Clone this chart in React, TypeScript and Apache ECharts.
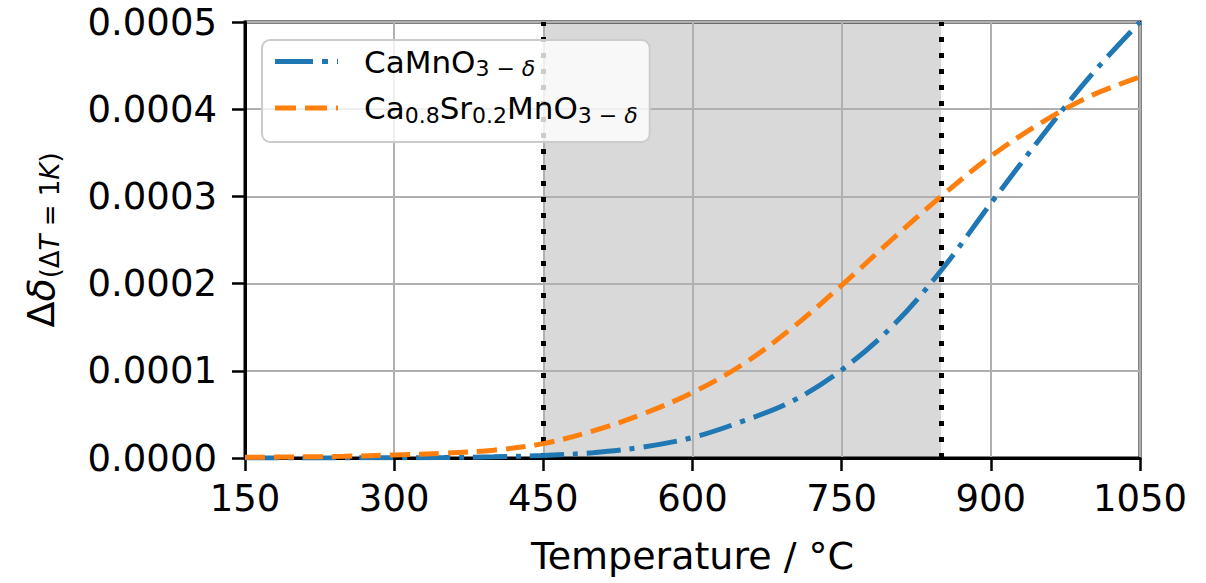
import React, { useEffect, useRef } from "react";
import * as echarts from "echarts";

const temps = [150, 200, 250, 300, 350, 400, 450, 500, 550, 600, 650, 700, 750, 800, 850, 900, 950, 1000, 1050];
const caMnO3 = [0, 0, 0.0000001, 0.0000003, 0.0000006, 0.0000014, 0.000003, 0.000006, 0.0000125, 0.0000235, 0.000042, 0.000065, 0.000101, 0.00015, 0.000215, 0.000292, 0.000367, 0.000438, 0.0005];
const caSrMnO3 = [0.0000008, 0.0000012, 0.000002, 0.0000035, 0.0000055, 0.000009, 0.0000165, 0.000031, 0.0000505, 0.000075, 0.000107, 0.000149, 0.000198, 0.00025, 0.0003, 0.000346, 0.000384, 0.000415, 0.000437];
const xTicks = { min: 150, max: 1050, interval: 150 };
const yTicks = { min: 0, max: 0.0005, interval: 0.0001 };
const shadeRange = [450, 850];
const seriesNames = ["CaMnO3", "Ca0.8Sr0.2MnO3"];

const FONT = "DejaVu Sans";
const BLUE = "#1f77b4";
const ORANGE = "#ff7f0e";

export default function App() {
  const ref = useRef<HTMLDivElement>(null);
  useEffect(() => {
    document.body.style.margin = "0";
    const chart = echarts.init(ref.current!, null, { renderer: "svg" });
    const blueData = temps.map((t, i) => [t, caMnO3[i]]);
    const orangeData = temps.map((t, i) => [t, caSrMnO3[i]]);
    chart.setOption({
      animation: false,
      grid: {
        left: 245,
        top: 22,
        width: 895,
        height: 436,
        show: true,
        borderColor: "#000",
        borderWidth: 3,
        backgroundColor: "transparent",
      },
      legend: {
        data: [
          { name: seriesNames[0], icon: "path://M0 0h38v5H0z M47 0h6v5h-6z M62 0h1v5h-1z" },
          { name: seriesNames[1], icon: "path://M0 0h21v5H0z M30 0h22v5h-22z M61 0h2v5h-2z" },
        ],
        orient: "vertical",
        left: 262,
        top: 40,
        itemWidth: 63,
        itemHeight: 14,
        itemGap: 13,
        padding: [6, 12, 16, 13],
        backgroundColor: "rgba(255,255,255,0.8)",
        borderColor: "#cccccc",
        borderWidth: 2,
        borderRadius: 8,
        formatter: (name: string) =>
          name === seriesNames[0]
            ? "{g| }{m|CaMnO}{s|3 − }{si|δ}"
            : "{g| }{m|Ca}{s|0.8}{m|Sr}{s|0.2}{m|MnO}{s|3 − }{si|δ}",
        textStyle: {
          fontFamily: FONT,
          color: "#000",
          rich: {
            g: { width: 21, fontSize: 31, lineHeight: 36 },
            m: { fontSize: 31, fontFamily: FONT, color: "#000", lineHeight: 36, verticalAlign: "middle" },
            s: { fontSize: 22, fontFamily: FONT, color: "#000", lineHeight: 20, verticalAlign: "bottom" },
            si: { fontSize: 22, fontFamily: FONT, fontStyle: "italic", color: "#000", lineHeight: 20, verticalAlign: "bottom" },
          },
        },
      },
      xAxis: {
        type: "value",
        min: xTicks.min,
        max: xTicks.max,
        interval: xTicks.interval,
        name: "Temperature / °C",
        nameLocation: "middle",
        nameGap: 79,
        nameTextStyle: { fontFamily: FONT, fontSize: 38, color: "#000" },
        axisLine: { show: true, onZero: false, lineStyle: { color: "#000", width: 3 } },
        axisTick: { show: true, length: 13, lineStyle: { color: "#000", width: 2.5 } },
        axisLabel: { fontFamily: FONT, fontSize: 37, color: "#000", margin: 22, formatter: (v: number) => String(v) },
        splitLine: { show: true, lineStyle: { color: "#b0b0b0", width: 2 } },
      },
      yAxis: {
        type: "value",
        min: yTicks.min,
        max: yTicks.max,
        interval: yTicks.interval,
        name: "{m|Δ}{mi|δ}{s|(Δ}{si|T}{s| = 1}{si|K}{s|)}",
        nameLocation: "middle",
        nameRotate: 90,
        nameGap: 182,
        nameTextStyle: {
          fontFamily: FONT,
          color: "#000",
          rich: {
            m: { fontSize: 38, fontFamily: FONT, color: "#000", lineHeight: 44, verticalAlign: "middle" },
            mi: { fontSize: 38, fontFamily: FONT, fontStyle: "italic", color: "#000", lineHeight: 44, verticalAlign: "middle" },
            s: { fontSize: 26, fontFamily: FONT, color: "#000", lineHeight: 26, verticalAlign: "bottom" },
            si: { fontSize: 26, fontFamily: FONT, fontStyle: "italic", color: "#000", lineHeight: 26, verticalAlign: "bottom" },
          },
        },
        axisLine: { show: true, lineStyle: { color: "#000", width: 3 } },
        axisTick: { show: true, length: 13, lineStyle: { color: "#000", width: 2.5 } },
        axisLabel: {
          fontFamily: FONT,
          fontSize: 37,
          color: "#000",
          margin: 28,
          formatter: (v: number) => v.toFixed(4),
        },
        splitLine: { show: true, lineStyle: { color: "#b0b0b0", width: 2 } },
      },
      series: [
        {
          name: "shade",
          type: "line",
          data: [],
          z: -1,
          silent: true,
          markArea: {
            z: -1,
            silent: true,
            itemStyle: { color: "#d9d9d9" },
            data: [[{ xAxis: shadeRange[0] }, { xAxis: shadeRange[1] }]],
          },
          markLine: {
            z: 1,
            silent: true,
            symbol: "none",
            label: { show: false },
            lineStyle: { color: "#000", type: [5, 11], width: 5, cap: "butt" },
            data: [{ xAxis: shadeRange[0] }, { xAxis: shadeRange[1] }],
          },
        },
        {
          name: seriesNames[0],
          type: "line",
          data: blueData,
          smooth: 0.35,
          showSymbol: false,
          symbol: "none",
          z: 3,
          lineStyle: { color: BLUE, width: 5, type: [34, 9, 5, 9], cap: "butt" },
          itemStyle: { color: BLUE },
        },
        {
          name: seriesNames[1],
          type: "line",
          data: orangeData,
          smooth: 0.35,
          showSymbol: false,
          symbol: "none",
          z: 3,
          lineStyle: { color: ORANGE, width: 5, type: [20, 9], cap: "butt" },
          itemStyle: { color: ORANGE },
        },
      ],
    });
    return () => chart.dispose();
  }, []);
  return <div ref={ref} style={{ width: 1206, height: 583 }} />;
}
